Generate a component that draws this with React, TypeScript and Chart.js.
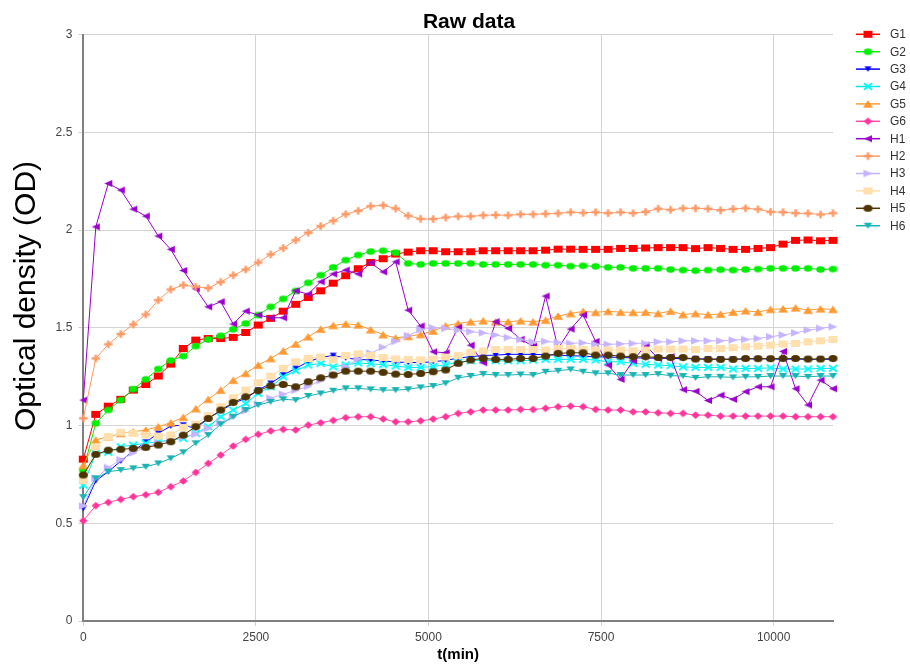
import { useEffect, useRef } from "react";
import { Chart, registerables } from "chart.js";

Chart.register(...registerables);

const FONT = "'Liberation Sans', Arial, Helvetica, sans-serif";

// Sampling times (minutes)
const timeMin = [
  0, 181, 362, 543, 724, 905, 1086, 1267, 1448, 1629, 1810, 1991, 2172, 2353, 2534, 2715,
  2896, 3077, 3258, 3439, 3620, 3801, 3982, 4163, 4344, 4525, 4706, 4887, 5068, 5249, 5430,
  5611, 5792, 5973, 6154, 6335, 6516, 6697, 6878, 7059, 7240, 7421, 7602, 7783, 7964, 8145,
  8326, 8507, 8688, 8869, 9050, 9231, 9412, 9593, 9774, 9955, 10136, 10317, 10498, 10679, 10860,
];

// Axis tick values
const timeTicks = [0, 2500, 5000, 7500, 10000];
const odTicks = [0, 0.5, 1, 1.5, 2, 2.5, 3];

// Optical density per well
const g1 = [
  0.828, 1.057, 1.099, 1.134, 1.181, 1.21, 1.253, 1.314, 1.394, 1.437, 1.445, 1.445, 1.451, 1.476, 1.514, 1.548,
  1.585, 1.62, 1.655, 1.689, 1.728, 1.766, 1.802, 1.834, 1.853, 1.877, 1.887, 1.894, 1.894, 1.889, 1.889,
  1.889, 1.894, 1.894, 1.894, 1.894, 1.894, 1.897, 1.902, 1.902, 1.901, 1.901, 1.901, 1.906, 1.906, 1.908,
  1.91, 1.91, 1.91, 1.905, 1.91, 1.906, 1.901, 1.901, 1.906, 1.91, 1.928, 1.947, 1.949, 1.945, 1.947,
];
const g2 = [
  0.772, 1.011, 1.079, 1.13, 1.186, 1.236, 1.289, 1.333, 1.355, 1.406, 1.44, 1.459, 1.492, 1.522, 1.565, 1.607,
  1.648, 1.688, 1.73, 1.769, 1.809, 1.846, 1.872, 1.89, 1.894, 1.884, 1.829, 1.824, 1.829, 1.829, 1.829,
  1.829, 1.824, 1.824, 1.824, 1.824, 1.824, 1.82, 1.82, 1.815, 1.817, 1.814, 1.809, 1.809, 1.804, 1.804,
  1.804, 1.798, 1.795, 1.792, 1.795, 1.797, 1.795, 1.798, 1.8, 1.804, 1.804, 1.804, 1.804, 1.798, 1.8,
];
const g3 = [
  0.576, 0.717, 0.764, 0.818, 0.87, 0.915, 0.96, 0.997, 1.002, 0.985, 1.036, 1.075, 1.113, 1.139, 1.181, 1.216,
  1.258, 1.292, 1.326, 1.348, 1.358, 1.345, 1.338, 1.335, 1.33, 1.325, 1.322, 1.322, 1.326, 1.333, 1.345,
  1.352, 1.358, 1.36, 1.364, 1.364, 1.364, 1.362, 1.36, 1.357, 1.355, 1.352, 1.35, 1.348, 1.346, 1.345,
  1.344, 1.343, 1.342, 1.341, 1.34, 1.34, 1.339, 1.34, 1.341, 1.34, 1.339, 1.34, 1.338, 1.339, 1.338,
];
const g4 = [
  0.695, 0.857, 0.863, 0.891, 0.9, 0.909, 0.917, 0.926, 0.934, 0.96, 0.994, 1.045, 1.079, 1.113, 1.164, 1.198,
  1.249, 1.28, 1.309, 1.317, 1.3, 1.31, 1.32, 1.316, 1.311, 1.304, 1.297, 1.297, 1.302, 1.311, 1.324,
  1.331, 1.335, 1.331, 1.331, 1.331, 1.335, 1.338, 1.338, 1.338, 1.338, 1.335, 1.326, 1.326, 1.318, 1.313,
  1.309, 1.306, 1.3, 1.297, 1.297, 1.297, 1.289, 1.292, 1.292, 1.295, 1.289, 1.289, 1.289, 1.292, 1.292,
];
const g5 = [
  0.796, 0.926, 0.943, 0.96, 0.968, 0.977, 0.994, 1.014, 1.042, 1.086, 1.134, 1.181, 1.232, 1.267, 1.309, 1.343,
  1.382, 1.417, 1.454, 1.493, 1.512, 1.52, 1.515, 1.49, 1.465, 1.448, 1.456, 1.466, 1.484, 1.51, 1.522,
  1.531, 1.536, 1.531, 1.531, 1.536, 1.531, 1.539, 1.56, 1.573, 1.584, 1.579, 1.584, 1.58, 1.579, 1.58,
  1.573, 1.585, 1.568, 1.573, 1.567, 1.57, 1.58, 1.587, 1.58, 1.594, 1.597, 1.602, 1.59, 1.597, 1.594,
];
const g6 = [
  0.513, 0.59, 0.607, 0.622, 0.636, 0.646, 0.658, 0.687, 0.716, 0.76, 0.806, 0.849, 0.895, 0.929, 0.955, 0.972,
  0.98, 0.977, 1.002, 1.014, 1.026, 1.04, 1.045, 1.045, 1.033, 1.019, 1.019, 1.024, 1.033, 1.045, 1.062,
  1.07, 1.079, 1.079, 1.079, 1.082, 1.082, 1.088, 1.096, 1.099, 1.096, 1.082, 1.079, 1.079, 1.07, 1.07,
  1.065, 1.062, 1.062, 1.053, 1.053, 1.048, 1.048, 1.048, 1.048, 1.048, 1.048, 1.045, 1.045, 1.045, 1.045,
];
const h1 = [
  1.13, 2.016, 2.238, 2.204, 2.107, 2.071, 1.969, 1.901, 1.793, 1.699, 1.607, 1.633, 1.519, 1.585, 1.565, 1.551,
  1.551, 1.689, 1.672, 1.735, 1.775, 1.795, 1.775, 1.832, 1.786, 1.837, 1.59, 1.509, 1.377, 1.372, 1.502,
  1.411, 1.321, 1.531, 1.497, 1.441, 1.406, 1.662, 1.394, 1.493, 1.565, 1.43, 1.309, 1.236, 1.331, 1.411,
  1.343, 1.352, 1.183, 1.175, 1.128, 1.155, 1.134, 1.173, 1.198, 1.198, 1.379, 1.188, 1.105, 1.232, 1.188,
];
const h2 = [
  1.037, 1.343, 1.415, 1.468, 1.517, 1.568, 1.641, 1.696, 1.718, 1.71, 1.703, 1.734, 1.769, 1.798, 1.834, 1.875,
  1.907, 1.948, 1.986, 2.02, 2.047, 2.081, 2.098, 2.122, 2.126, 2.11, 2.073, 2.057, 2.056, 2.064, 2.07,
  2.07, 2.075, 2.077, 2.075, 2.08, 2.08, 2.083, 2.085, 2.091, 2.088, 2.091, 2.086, 2.091, 2.086, 2.093,
  2.109, 2.103, 2.111, 2.111, 2.109, 2.101, 2.108, 2.111, 2.106, 2.093, 2.091, 2.086, 2.085, 2.079, 2.086,
];
const h3 = [
  0.588, 0.73, 0.785, 0.825, 0.86, 0.89, 0.91, 0.925, 0.94, 0.955, 0.985, 1.015, 1.045, 1.075, 1.11, 1.14,
  1.16, 1.18, 1.2, 1.23, 1.26, 1.3, 1.34, 1.37, 1.4, 1.43, 1.46, 1.49, 1.5, 1.497, 1.488,
  1.48, 1.474, 1.463, 1.45, 1.44, 1.428, 1.43, 1.425, 1.42, 1.423, 1.415, 1.415, 1.417, 1.42, 1.42,
  1.428, 1.428, 1.433, 1.433, 1.433, 1.433, 1.437, 1.44, 1.445, 1.454, 1.463, 1.474, 1.488, 1.497, 1.505,
];
const h4 = [
  0.718, 0.891, 0.943, 0.965, 0.96, 0.951, 0.946, 0.951, 0.991, 1.007, 1.05, 1.096, 1.142, 1.181, 1.219, 1.253,
  1.292, 1.326, 1.343, 1.35, 1.336, 1.358, 1.367, 1.358, 1.348, 1.341, 1.338, 1.336, 1.34, 1.35, 1.358,
  1.374, 1.381, 1.389, 1.389, 1.389, 1.389, 1.386, 1.394, 1.394, 1.39, 1.386, 1.386, 1.386, 1.382, 1.386,
  1.391, 1.391, 1.391, 1.389, 1.394, 1.394, 1.398, 1.403, 1.406, 1.411, 1.417, 1.42, 1.428, 1.433, 1.44,
];
const h5 = [
  0.747, 0.852, 0.874, 0.878, 0.883, 0.888, 0.9, 0.917, 0.951, 0.994, 1.036, 1.079, 1.118, 1.147, 1.178, 1.203,
  1.21, 1.198, 1.224, 1.244, 1.258, 1.278, 1.278, 1.278, 1.272, 1.263, 1.261, 1.266, 1.275, 1.284, 1.318,
  1.335, 1.343, 1.338, 1.338, 1.343, 1.343, 1.355, 1.369, 1.372, 1.372, 1.36, 1.36, 1.355, 1.352, 1.352,
  1.348, 1.348, 1.348, 1.34, 1.338, 1.338, 1.338, 1.343, 1.342, 1.342, 1.343, 1.343, 1.34, 1.34, 1.343,
];
const h6 = [
  0.633, 0.73, 0.764, 0.772, 0.781, 0.789, 0.806, 0.832, 0.863, 0.909, 0.951, 1.006, 1.045, 1.079, 1.105, 1.121,
  1.134, 1.13, 1.151, 1.164, 1.178, 1.19, 1.19, 1.185, 1.181, 1.181, 1.185, 1.195, 1.202, 1.216, 1.244,
  1.253, 1.263, 1.258, 1.258, 1.261, 1.258, 1.275, 1.28, 1.287, 1.275, 1.267, 1.267, 1.258, 1.258, 1.258,
  1.263, 1.255, 1.253, 1.244, 1.249, 1.249, 1.246, 1.249, 1.249, 1.253, 1.253, 1.253, 1.249, 1.253, 1.253,
];

const seriesNames = ["G1", "G2", "G3", "G4", "G5", "G6", "H1", "H2", "H3", "H4", "H5", "H6"];
const seriesValues = [g1, g2, g3, g4, g5, g6, h1, h2, h3, h4, h5, h6];

type Shape = "square" | "circle" | "triUp" | "triDown" | "triLeft" | "triRight" | "diamond" | "plus" | "cross";

interface MarkerSpec {
  shape: Shape;
  color: string;
  line: string;
  w: number;
  h: number;
  stroke?: number;
}

const markerSpecs: MarkerSpec[] = [
  { shape: "square", color: "#ff0000", line: "#ff0000", w: 9, h: 7 },
  { shape: "circle", color: "#00ee00", line: "#00ee00", w: 8.5, h: 6.5 },
  { shape: "triDown", color: "#0000ff", line: "#0000ff", w: 7, h: 5.5 },
  { shape: "cross", color: "#00ffff", line: "#00e5e5", w: 8, h: 6.5, stroke: 2 },
  { shape: "triUp", color: "#ff9933", line: "#ff9933", w: 10, h: 7.5 },
  { shape: "diamond", color: "#ff3399", line: "#ff4da6", w: 8.5, h: 7.5 },
  { shape: "triLeft", color: "#9900cc", line: "#9900cc", w: 8, h: 7 },
  { shape: "plus", color: "#ff9966", line: "#ff9966", w: 8.5, h: 7.5, stroke: 2.5 },
  { shape: "triRight", color: "#c6b3ff", line: "#c6b3ff", w: 9, h: 7.5 },
  { shape: "square", color: "#ffdfad", line: "#ffdfad", w: 9, h: 7 },
  { shape: "circle", color: "#4d3300", line: "#4d3300", w: 9, h: 7 },
  { shape: "triDown", color: "#1ab3b3", line: "#1ab3b3", w: 8.5, h: 6 },
];

function makeMarker(spec: MarkerSpec): HTMLCanvasElement {
  const pad = 2;
  const c = document.createElement("canvas");
  c.width = Math.ceil(spec.w) + pad * 2;
  c.height = Math.ceil(spec.h) + pad * 2;
  const ctx = c.getContext("2d")!;
  const cx = c.width / 2;
  const cy = c.height / 2;
  const hw = spec.w / 2;
  const hh = spec.h / 2;
  ctx.fillStyle = spec.color;
  ctx.strokeStyle = spec.color;
  ctx.lineWidth = spec.stroke ?? 2;
  ctx.beginPath();
  switch (spec.shape) {
    case "square":
      ctx.rect(cx - hw, cy - hh, spec.w, spec.h);
      ctx.fill();
      break;
    case "circle":
      ctx.ellipse(cx, cy, hw, hh, 0, 0, Math.PI * 2);
      ctx.fill();
      break;
    case "triUp":
      ctx.moveTo(cx, cy - hh);
      ctx.lineTo(cx + hw, cy + hh);
      ctx.lineTo(cx - hw, cy + hh);
      ctx.closePath();
      ctx.fill();
      break;
    case "triDown":
      ctx.moveTo(cx - hw, cy - hh);
      ctx.lineTo(cx + hw, cy - hh);
      ctx.lineTo(cx, cy + hh);
      ctx.closePath();
      ctx.fill();
      break;
    case "triLeft":
      ctx.moveTo(cx - hw, cy);
      ctx.lineTo(cx + hw, cy - hh);
      ctx.lineTo(cx + hw, cy + hh);
      ctx.closePath();
      ctx.fill();
      break;
    case "triRight":
      ctx.moveTo(cx + hw, cy);
      ctx.lineTo(cx - hw, cy - hh);
      ctx.lineTo(cx - hw, cy + hh);
      ctx.closePath();
      ctx.fill();
      break;
    case "diamond":
      ctx.moveTo(cx, cy - hh);
      ctx.lineTo(cx + hw, cy);
      ctx.lineTo(cx, cy + hh);
      ctx.lineTo(cx - hw, cy);
      ctx.closePath();
      ctx.fill();
      break;
    case "plus":
      ctx.moveTo(cx - hw, cy);
      ctx.lineTo(cx + hw, cy);
      ctx.moveTo(cx, cy - hh);
      ctx.lineTo(cx, cy + hh);
      ctx.stroke();
      break;
    case "cross":
      ctx.moveTo(cx - hw, cy - hh);
      ctx.lineTo(cx + hw, cy + hh);
      ctx.moveTo(cx + hw, cy - hh);
      ctx.lineTo(cx - hw, cy + hh);
      ctx.stroke();
      break;
  }
  return c;
}

// Chart title and rotated y-axis caption
const captionPlugin = {
  id: "captions",
  afterDraw(chart: Chart) {
    const ctx = chart.ctx;
    ctx.save();
    ctx.fillStyle = "#000";
    ctx.font = `bold 21px ${FONT}`;
    ctx.textAlign = "center";
    ctx.textBaseline = "alphabetic";
    ctx.fillText("Raw data", 469, 28);

    ctx.translate(35, 296);
    ctx.rotate(-Math.PI / 2);
    ctx.font = `30px ${FONT}`;
    ctx.fillText("Optical density (OD)", 0, 0);
    ctx.restore();
  },
};

// Legend column on the right: short line + marker + name
const sideLegendPlugin = {
  id: "sideLegend",
  afterDraw(chart: Chart) {
    const ctx = chart.ctx;
    ctx.save();
    chart.data.datasets.forEach((ds: any, i: number) => {
      const y = 34.3 + i * 17.4;
      ctx.strokeStyle = ds.borderColor;
      ctx.lineWidth = 1.5;
      ctx.beginPath();
      ctx.moveTo(856, y);
      ctx.lineTo(880, y);
      ctx.stroke();
      const img = ds.pointStyle as HTMLCanvasElement;
      ctx.drawImage(img, 868 - img.width / 2, y - img.height / 2);
      ctx.fillStyle = "#333";
      ctx.font = `12px ${FONT}`;
      ctx.textAlign = "left";
      ctx.textBaseline = "middle";
      ctx.fillText(ds.label, 890, y + 0.5);
    });
    ctx.restore();
  },
};

export default function App() {
  const canvasRef = useRef<HTMLCanvasElement>(null);

  useEffect(() => {
    const canvas = canvasRef.current;
    if (!canvas) return;

    const datasets = seriesNames.map((name, i) => {
      const spec = markerSpecs[i];
      return {
        label: name,
        data: timeMin.map((t, k) => ({ x: t, y: seriesValues[i][k] })),
        borderColor: spec.line,
        backgroundColor: spec.color,
        borderWidth: 1,
        pointStyle: makeMarker(spec),
        pointRadius: 4,
        pointHoverRadius: 4,
        tension: 0,
        clip: false as const,
        order: seriesNames.length - i,
      };
    });

    const chart = new Chart(canvas, {
      type: "line",
      data: { datasets },
      options: {
        animation: false,
        responsive: false,
        devicePixelRatio: 1,
        events: [],
        layout: { padding: { top: 34.5, right: 77, bottom: 0, left: 0 } },
        plugins: {
          legend: { display: false },
          title: { display: false },
          tooltip: { enabled: false },
        },
        scales: {
          x: {
            type: "linear",
            min: 0,
            max: timeMin[timeMin.length - 1],
            afterFit: (scale: any) => {
              scale.height = 47;
            },
            afterBuildTicks: (scale: any) => {
              scale.ticks = timeTicks.map((v) => ({ value: v }));
            },
            ticks: {
              padding: 4,
              color: "#444",
              font: { family: FONT, size: 12 },
              callback: (v: any) => `${v}`,
            },
            grid: { color: "#d4d4d4", lineWidth: 1, tickLength: 5 },
            border: { color: "#808080", width: 2 },
            title: {
              display: true,
              text: "t(min)",
              color: "#000",
              font: { family: FONT, size: 15, weight: "bold" },
              padding: { top: 0, bottom: 4 },
            },
          },
          y: {
            type: "linear",
            min: 0,
            max: 3,
            afterFit: (scale: any) => {
              scale.width = 83.3;
            },
            afterBuildTicks: (scale: any) => {
              scale.ticks = odTicks.map((v) => ({ value: v }));
            },
            ticks: {
              padding: 6,
              color: "#444",
              font: { family: FONT, size: 12 },
              callback: (v: any) => `${v}`,
            },
            grid: { color: "#d4d4d4", lineWidth: 1, tickLength: 5 },
            border: { color: "#808080", width: 2 },
          },
        },
      },
      plugins: [captionPlugin, sideLegendPlugin],
    });

    return () => chart.destroy();
  }, []);

  return (
    <div style={{ position: "absolute", left: 0, top: 0, width: 910, height: 668, background: "#fff" }}>
      <canvas ref={canvasRef} width={910} height={668} style={{ display: "block", width: 910, height: 668 }} />
    </div>
  );
}
